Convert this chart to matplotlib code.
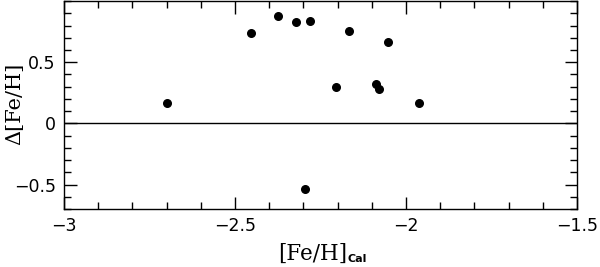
import matplotlib
matplotlib.use("Agg")
import matplotlib.pyplot as plt
from matplotlib.ticker import MultipleLocator

# [Fe/H]_Cal and Delta[Fe/H]
feh_cal = [-2.70, -2.454, -2.375, -2.321, -2.282, -2.166, -2.054,
           -2.204, -2.087, -2.080, -1.962, -2.296]
dfeh = [0.168, 0.743, 0.881, 0.827, 0.835, 0.759, 0.662,
        0.301, 0.320, 0.285, 0.163, -0.539]

plt.rcParams['font.family'] = ['DejaVu Sans']

fig = plt.figure(figsize=(6.0, 2.67), dpi=100)
ax = fig.add_axes([0.1067, 0.217, 0.855, 0.779])

ax.scatter(feh_cal, dfeh, s=30, color='black', zorder=3)
ax.axhline(0, color='black', lw=1.0)

ax.set_xlim(-3, -1.5)
ax.set_ylim(-0.7, 1.0)
ax.xaxis.set_minor_locator(MultipleLocator(0.1))
ax.yaxis.set_minor_locator(MultipleLocator(0.1))
ax.set_xticks([-3, -2.5, -2, -1.5])
ax.set_xticklabels(['\u22123', '\u22122.5', '\u22122', '\u22121.5'])
ax.set_yticks([-0.5, 0, 0.5])
ax.set_yticklabels(['\u22120.5', '0', '0.5'])

ax.tick_params(which='both', direction='in', top=True, right=True,
               labelsize=12.5, width=1.0)
ax.tick_params(which='major', length=9, pad=6)
ax.tick_params(which='minor', length=5)
for s in ax.spines.values():
    s.set_linewidth(1.0)

# x label: serif main part plus small bold sans subscript
ax.text(0.552, -0.163, '[Fe/H]', transform=ax.transAxes, ha='right', va='top',
        family='DejaVu Serif', fontsize=15.5)
ax.text(0.553, -0.262, 'Cal', transform=ax.transAxes, ha='left', va='bottom',
        family='DejaVu Sans', fontweight='bold', fontsize=8)

ax.set_ylabel('\u0394[Fe/H]', family='DejaVu Serif', fontsize=15)
ax.yaxis.set_label_coords(-0.078, 0.505)

fig.savefig('out.png', dpi=100)
